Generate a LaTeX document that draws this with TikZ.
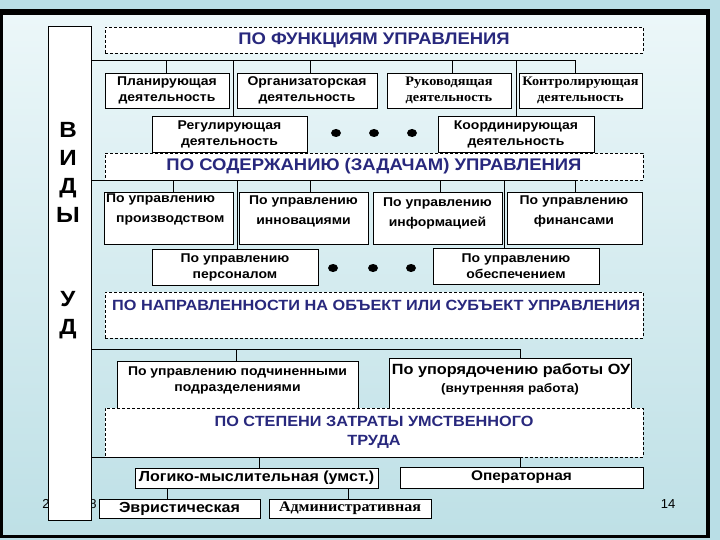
\documentclass[tikz,border=0pt]{standalone}
\usepackage{fontspec}
\setmainfont{Liberation Sans}[FakeStretch=1.1]
\newfontfamily\serifb{Liberation Serif}[FakeStretch=1.1]
\newfontfamily\plainf{Liberation Sans}
\usetikzlibrary{shapes.geometric}
\definecolor{navy}{RGB}{40,40,125}
\definecolor{bgout}{RGB}{185,222,230}
\definecolor{bgtop}{RGB}{236,247,249}
\definecolor{bgbot}{RGB}{190,224,230}
\begin{document}
\begin{tikzpicture}[x=1pt,y=-1pt,
  box/.style={draw=black,line width=0.9pt,fill=white,inner sep=0pt,align=center},
  dbox/.style={draw=black,line width=0.8pt,dash pattern=on 3pt off 2pt,fill=white,inner sep=0pt,align=center},
  conn/.style={draw=black,line width=0.9pt},
  txt/.style={font=\bfseries\fontsize{12.7}{16}\selectfont},
  stxt/.style={font=\serifb\bfseries\fontsize{13}{16}\selectfont},
  rtxt/.style={font=\bfseries\fontsize{12.7}{20}\selectfont,align=center,inner sep=0pt},
  head/.style={font=\bfseries\fontsize{16.8}{19}\selectfont,text=navy},
  big/.style={font=\bfseries\fontsize{22}{28.3}\selectfont,align=center,inner sep=0pt},
  dotn/.style={ellipse,fill=black,minimum width=10pt,minimum height=8pt,inner sep=0pt}]
\useasboundingbox (0,0) rectangle (720,540);
\fill[bgout] (0,0) rectangle (720,540);
\shade[top color=bgtop,bottom color=bgbot] (2,12) rectangle (708,536);
\draw[line width=3.5pt] (1.5,12) rectangle (708,536.5);
\draw[line width=6pt] (0,12) -- (710,12);

% page marks
\node[font=\plainf\fontsize{13}{15}\selectfont,inner sep=0pt] (d1) at (46,504) {2};
\node[font=\plainf\fontsize{13}{15}\selectfont,inner sep=0pt] (d2) at (93,504) {8};
\node[font=\plainf\fontsize{13}{15}\selectfont,inner sep=0pt] (pg) at (668,504) {14};

% left column
\node[box,minimum width=43pt,minimum height=494pt] (vid) at (69.5,273) {};
\node[big] (vl1) at (68,172) {В\\И\\Д\\Ы};
\node[big] (vl2) at (68,315) {У\\Д};

% headings
\node[dbox,head,minimum width=538pt,minimum height=26pt] (h1) at (374,40) {ПО ФУНКЦИЯМ УПРАВЛЕНИЯ};
\node[dbox,head,minimum width=538pt,minimum height=27pt] (h2) at (374,166.5) {ПО СОДЕРЖАНИЮ (ЗАДАЧАМ) УПРАВЛЕНИЯ};
\node[dbox,minimum width=538pt,minimum height=46pt] (h3) at (374,315) {};
\node[head,font=\bfseries\fontsize{14.8}{17}\selectfont,anchor=west,inner sep=0pt] (h3t) at (112,305) {ПО НАПРАВЛЕННОСТИ НА ОБЪЕКТ ИЛИ СУБЪЕКТ УПРАВЛЕНИЯ};

% level 1
\coordinate (f1) at (91,60);
\coordinate (f1r) at (575,60);
\draw[conn] (f1) -- (f1r);
\node[box,txt,minimum width=124pt,minimum height=35pt] (p1) at (167,90.5) {Планирующая\\деятельность};
\node[box,txt,minimum width=140pt,minimum height=35pt] (p2) at (307,90.5) {Организаторская\\деятельность};
\node[box,stxt,minimum width=124pt,minimum height=35pt] (p3) at (449,90.5) {Руководящая\\деятельность};
\node[box,stxt,minimum width=123pt,minimum height=35pt] (p4) at (580.5,90.5) {Контролирующая\\деятельность};
\node[box,txt,minimum width=155pt,minimum height=36pt] (p5) at (229.5,134) {Регулирующая\\деятельность};
\node[box,txt,minimum width=156pt,minimum height=36pt] (p6) at (516,134) {Координирующая\\деятельность};
\draw[conn] ([xshift=-1pt]p1.north) -- ([xshift=-1pt]p1.north |- f1);
\draw[conn] ([xshift=3pt]p2.north) -- ([xshift=3pt]p2.north |- f1);
\draw[conn] ([xshift=3pt]p3.north) -- ([xshift=3pt]p3.north |- f1);
\draw[conn] ([xshift=-5.5pt]p4.north) -- ([xshift=-5.5pt]p4.north |- f1);
\draw[conn] ([xshift=3.5pt]p5.north) -- ([xshift=3.5pt]p5.north |- f1);
\draw[conn] (p6.north) -- (p6.north |- f1);
\node[dotn] (k1) at (336,133) {};
\node[dotn] (k2) at (374,133) {};
\node[dotn] (k3) at (412,133) {};

% level 2
\coordinate (f2) at (91,180);
\coordinate (f2r) at (575,180);
\draw[conn] (f2) -- (f2r);
\node[box,minimum width=129pt,minimum height=52pt] (s1) at (168.5,218) {};
\node[box,minimum width=129pt,minimum height=52pt] (s2) at (303.5,218) {};
\node[box,minimum width=129pt,minimum height=52pt] (s3) at (437.5,218) {};
\node[box,minimum width=135pt,minimum height=52pt] (s4) at (574.5,218) {};
\node[rtxt,align=left,anchor=north west] (s1t) at (106,194) {По управлению\\\hspace*{10pt}производством};
\node[rtxt] (s2t) at (303.5,211) {По управлению\\инновациями};
\node[rtxt] (s3t) at (437.5,213) {По управлению\\информацией};
\node[rtxt] (s4t) at (574,211) {По управлению\\финансами};
\node[box,txt,minimum width=166pt,minimum height=36pt] (s5) at (235,267) {По управлению\\персоналом};
\node[box,txt,minimum width=166pt,minimum height=36pt] (s6) at (516,266) {По управлению\\обеспечением};
\draw[conn] ([xshift=4.5pt]s1.north) -- ([xshift=4.5pt]s1.north |- f2);
\draw[conn] ([xshift=6.5pt]s2.north) -- ([xshift=6.5pt]s2.north |- f2);
\draw[conn] ([xshift=2.5pt]s3.north) -- ([xshift=2.5pt]s3.north |- f2);
\draw[conn] ([xshift=0.5pt]s4.north) -- ([xshift=0.5pt]s4.north |- f2);
\draw[conn] ([xshift=2pt]s5.north) -- ([xshift=2pt]s5.north |- f2);
\draw[conn] ([xshift=-12pt]s6.north) -- ([xshift=-12pt]s6.north |- f2);
\node[dotn] (k4) at (333,268) {};
\node[dotn] (k5) at (373,268) {};
\node[dotn] (k6) at (411,268) {};

% level 3
\coordinate (f3) at (91,349);
\coordinate (f3r) at (520,349);
\draw[conn] (f3) -- (f3r);
\node[box,minimum width=241pt,minimum height=49pt] (u1) at (237.5,385.5) {};
\node[box,minimum width=242pt,minimum height=52pt] (u2) at (510,384) {};
\node[txt,align=center,inner sep=0pt] (u1t) at (237.5,380) {По управлению подчиненными\\подразделениями};
\node[font=\bfseries\fontsize{14.8}{16}\selectfont,inner sep=0pt] (u2t) at (511,371) {По упорядочению работы ОУ};
\node[font=\bfseries\fontsize{12.3}{14}\selectfont,inner sep=0pt] (u2s) at (510,389) {(внутренняя работа)};
\draw[conn] ([xshift=-1.5pt]u1.north) -- ([xshift=-1.5pt]u1.north |- f3);
\draw[conn] ([xshift=10pt]u2.north) -- ([xshift=10pt]u2.north |- f3);

% level 4
\node[dbox,head,font=\bfseries\fontsize{14.8}{19}\selectfont,minimum width=538pt,minimum height=49pt] (h4) at (374,432.5) {ПО СТЕПЕНИ ЗАТРАТЫ УМСТВЕННОГО\\ТРУДА};
\coordinate (f4) at (91,457);
\coordinate (f4r) at (520,457);
\draw[conn] (f4) -- (f4r);
\node[box,font=\bfseries\fontsize{14.6}{16}\selectfont,minimum width=243pt,minimum height=20pt] (l1) at (256.5,478) {Логико-мыслительная (умст.)};
\node[box,font=\bfseries\fontsize{14}{16}\selectfont,minimum width=243pt,minimum height=21pt] (l2) at (521.5,477.5) {Операторная};
\draw[conn] ([xshift=2.5pt]l1.north) -- ([xshift=2.5pt]l1.north |- f4);
\draw[conn] ([xshift=-1.5pt]l2.north) -- ([xshift=-1.5pt]l2.north |- f4);

% level 5
\node[box,font=\bfseries\fontsize{14.6}{16}\selectfont,minimum width=161pt,minimum height=19pt] (e1) at (179.5,508.5) {Эвристическая};
\node[box,font=\serifb\bfseries\fontsize{14.6}{16}\selectfont,minimum width=162pt,minimum height=19pt] (e2) at (350,508.5) {Административная};
\draw[conn] ([xshift=-12.5pt]e1.north) -- ([xshift=-12.5pt]e1.north |- l1.south);
\draw[conn] ([xshift=-2pt]e2.north) -- ([xshift=-2pt]e2.north |- l1.south);
\end{tikzpicture}
\end{document}
